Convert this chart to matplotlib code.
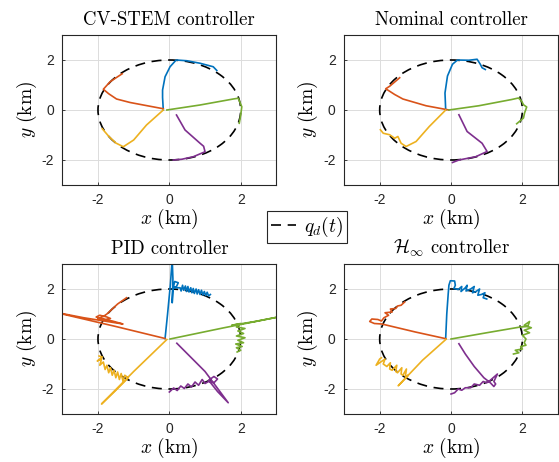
import matplotlib
matplotlib.use("Agg")
import matplotlib.pyplot as plt
from matplotlib.patches import Circle
from matplotlib.lines import Line2D

plt.rcParams['mathtext.fontset'] = 'cm'
plt.rcParams['axes.unicode_minus'] = False

# ---------------- data ----------------
titles = ["CV-STEM controller", "Nominal controller", "PID controller",
          r"$\mathcal{H}_\infty$ controller"]
ticks = [-2, 0, 2]
tick_labels = ["-2", "0", "2"]
ref_radius = 2.0
legend_label = r"$q_d(t)$"

# CV-STEM
cv_blue = [(-0.17, 0.0), (-0.19, 0.5), (-0.19, 0.8), (-0.12, 1.33), (0.02, 1.73), (0.19, 2.0),
           (0.49, 1.97), (0.86, 1.87), (1.23, 1.73), (1.33, 1.58)]
cv_orange = [(-0.17, 0.05), (-0.73, 0.2), (-1.1, 0.3), (-1.48, 0.44), (-1.7, 0.65), (-1.85, 0.83),
             (-1.66, 1.13), (-1.45, 1.33), (-1.32, 1.45)]
cv_yellow = [(-0.17, 0.0), (-0.64, -0.6), (-1.0, -1.2), (-1.29, -1.47), (-1.5, -1.32),
             (-1.7, -1.05), (-1.88, -0.75)]
cv_green = [(-0.07, 0.0), (0.86, 0.2), (1.79, 0.44), (1.93, 0.47), (2.03, 0.13), (2.0, -0.2),
            (1.96, -0.53)]
cv_purple = [(0.2, -0.2), (0.44, -0.8), (0.86, -1.33), (0.96, -1.45), (1.0, -1.67),
             (0.67, -1.87), (0.35, -1.97), (0.11, -2.0)]

# Nominal
nom_blue = [(-0.15, 0.0), (-0.17, 0.68), (-0.1, 1.36), (0.04, 1.83), (0.18, 2.0), (0.5, 1.99),
            (0.73, 2.03), (0.82, 1.83), (0.87, 1.69), (0.96, 1.62)]
nom_orange = [(-0.06, 0.0), (-0.7, 0.17), (-1.35, 0.44), (-1.58, 0.62), (-1.83, 0.85),
              (-1.72, 0.95), (-1.44, 1.29)]
nom_yellow = [(-0.15, 0.0), (-0.61, -0.66), (-0.98, -1.26), (-1.26, -1.46), (-1.4, -1.33),
              (-1.49, -1.06), (-1.58, -1.13), (-1.72, -0.99), (-1.9, -0.93), (-1.98, -0.79)]
nom_green = [(-0.06, 0.0), (0.78, 0.17), (1.7, 0.42), (1.89, 0.48), (1.98, 0.35), (2.03, 0.21),
             (2.12, 0.12), (2.06, -0.12), (2.03, -0.32), (1.84, -0.55)]
nom_purple = [(0.22, -0.19), (0.45, -0.86), (0.87, -1.33), (1.01, -1.66), (0.69, -1.87),
              (0.22, -2.0), (0.04, -2.1)]

# PID
pid_blue = [(-0.12, 0.02), (-0.05, 1.0), (0.03, 2.2), (0.08, 3.2), (0.1, 2.4), (0.08, 1.45),
            (0.1, 2.0), (0.15, 2.3), (0.25, 2.25), (0.2, 2.1), (0.12, 2.05), (0.3, 2.05),
            (0.33, 1.92), (0.37, 2.15), (0.4, 1.95), (0.45, 2.12), (0.48, 1.9), (0.52, 2.1),
            (0.55, 1.88), (0.6, 2.05), (0.63, 1.85), (0.67, 2.02), (0.7, 1.82), (0.75, 2.0),
            (0.78, 1.8), (0.82, 1.97), (0.86, 1.78), (0.9, 1.95), (0.94, 1.76), (0.98, 1.9),
            (1.02, 1.74), (1.06, 1.87), (1.1, 1.72), (1.15, 1.78)]
pid_orange = [(-0.12, 0.02), (-1.5, 0.5), (-3.3, 1.1), (-2.4, 0.85), (-1.3, 0.6), (-1.6, 0.72),
              (-1.9, 0.8), (-2.05, 0.88), (-1.95, 0.95), (-1.75, 0.88), (-1.65, 0.82),
              (-1.8, 0.78), (-2.0, 0.82), (-1.85, 0.9), (-1.75, 1.0), (-1.6, 1.2),
              (-1.45, 1.4), (-1.3, 1.55), (-1.2, 1.65)]
pid_yellow = [(-0.07, -0.02), (-1.0, -1.3), (-1.9, -2.6), (-1.5, -2.05), (-1.15, -1.55),
              (-1.25, -1.45), (-1.3, -1.68), (-1.35, -1.38), (-1.4, -1.62), (-1.45, -1.32),
              (-1.5, -1.55), (-1.55, -1.25), (-1.6, -1.45), (-1.65, -1.15), (-1.7, -1.35),
              (-1.75, -1.05), (-1.8, -1.22), (-1.85, -0.92), (-1.95, -1.05), (-1.9, -0.8),
              (-2.02, -0.88), (-1.88, -0.72), (-1.97, -0.68)]
pid_green = [(0.02, 0.0), (1.5, 0.44), (3.3, 0.95), (2.4, 0.7), (1.75, 0.55), (2.0, 0.62),
             (1.88, 0.48), (2.12, 0.42), (1.92, 0.32), (2.08, 0.22), (1.88, 0.12), (2.12, 0.05),
             (1.92, -0.05), (2.08, -0.15), (1.86, -0.2), (2.04, -0.3), (1.88, -0.35),
             (2.0, -0.45), (1.9, -0.52)]
pid_purple = [(0.21, -0.17), (1.0, -1.3), (1.65, -2.55), (1.35, -2.1), (1.1, -1.65),
              (1.25, -1.5), (1.35, -1.6), (1.25, -1.75), (1.1, -1.7), (1.0, -1.78),
              (0.92, -1.62), (0.82, -1.85), (0.72, -1.72), (0.62, -1.92), (0.52, -1.8),
              (0.42, -1.98), (0.32, -1.88), (0.22, -2.06), (0.12, -1.96), (0.0, -2.12)]

# H-infinity
hinf_blue = [(-0.15, 0.05), (-0.12, 1.0), (-0.08, 1.8), (-0.06, 2.15), (-0.02, 2.33),
             (0.1, 2.32), (0.12, 2.15), (0.08, 2.02), (0.2, 1.98), (0.3, 2.1), (0.28, 1.9),
             (0.4, 2.05), (0.45, 2.15), (0.42, 1.92), (0.55, 2.0), (0.65, 2.1), (0.6, 1.85),
             (0.7, 1.9), (0.8, 2.0), (0.75, 1.75), (0.85, 1.78), (0.95, 1.85), (0.9, 1.65),
             (1.0, 1.6)]
hinf_orange = [(-0.14, 0.01), (-1.0, 0.28), (-1.94, 0.6), (-2.15, 0.62), (-2.28, 0.7),
               (-2.22, 0.8), (-2.05, 0.78), (-1.95, 0.72), (-1.88, 0.85), (-1.75, 0.95),
               (-1.85, 1.05), (-1.65, 1.08), (-1.7, 1.2), (-1.55, 1.22), (-1.5, 1.32),
               (-1.4, 1.35), (-1.3, 1.48)]
hinf_yellow = [(-0.14, -0.01), (-0.8, -0.85), (-1.48, -1.87), (-1.3, -1.6), (-1.2, -1.45),
               (-1.28, -1.5), (-1.25, -1.2), (-1.35, -1.45), (-1.4, -1.4), (-1.38, -1.15),
               (-1.5, -1.35), (-1.55, -1.3), (-1.52, -1.05), (-1.65, -1.25), (-1.72, -1.2),
               (-1.7, -0.95), (-1.8, -1.1), (-1.9, -1.0), (-1.85, -0.8), (-2.0, -0.95),
               (-2.1, -1.05), (-2.0, -0.8), (-1.95, -0.75)]
hinf_green = [(0.0, 0.0), (1.0, 0.25), (1.94, 0.48), (2.15, 0.5), (2.2, 0.7), (2.05, 0.55),
              (2.25, 0.45), (2.05, 0.35), (2.2, 0.25), (2.0, 0.15), (2.1, 0.0), (2.05, -0.15),
              (2.1, -0.25), (1.95, -0.3), (2.0, -0.4), (1.8, -0.45), (1.9, -0.55), (1.75, -0.6)]
hinf_purple = [(0.22, -0.19), (0.4, -0.6), (0.65, -1.1), (0.92, -1.55), (1.1, -1.75),
               (1.2, -1.9), (1.25, -1.8), (1.2, -1.7), (1.3, -1.4), (1.1, -1.65), (1.0, -1.75),
               (0.9, -1.7), (0.8, -1.85), (0.65, -1.8), (0.55, -1.95), (0.4, -1.95),
               (0.3, -2.05), (0.2, -2.0), (0.1, -2.15), (0.0, -2.2)]

panels = [
    [cv_blue, cv_orange, cv_yellow, cv_purple, cv_green],
    [nom_blue, nom_orange, nom_yellow, nom_purple, nom_green],
    [pid_blue, pid_orange, pid_yellow, pid_purple, pid_green],
    [hinf_blue, hinf_orange, hinf_yellow, hinf_purple, hinf_green],
]
colors = ["#0072BD", "#D95319", "#EDB120", "#7E2F8E", "#77AC30"]

# ---------------- figure ----------------
W, H = 559, 462
fig = plt.figure(figsize=(W / 100, H / 100), dpi=100)

boxes = [(62.3, 35, 214.1, 150), (344, 35, 214.1, 150),
         (62.3, 264, 214.1, 150), (344, 264, 214.1, 150)]

tick_font = dict(family="Liberation Sans", size=10)

for i, (l, t, w, h) in enumerate(boxes):
    ax = fig.add_axes([l / W, 1 - (t + h) / H, w / W, h / H])
    circ = Circle((0, 0), ref_radius, fill=False, edgecolor="black", lw=1.2,
                  linestyle=(0, (6, 4)), zorder=2)
    ax.add_patch(circ)
    for traj, c in zip(panels[i], colors):
        xs = [p[0] for p in traj]
        ys = [p[1] for p in traj]
        ax.plot(xs, ys, color=c, lw=1.2, solid_joinstyle='round', zorder=3)
    ax.set_xlim(-3, 3)
    ax.set_ylim(-3, 3)
    ax.set_xticks(ticks)
    ax.set_yticks(ticks)
    ax.set_xticklabels(tick_labels, fontdict=tick_font)
    ax.set_yticklabels(tick_labels, fontdict=tick_font)
    ax.tick_params(direction="in", length=2.5, width=0.6, colors="#262626", pad=6)
    ax.grid(True, color="#dcdcdc", lw=0.7)
    ax.set_axisbelow(True)
    for s in ax.spines.values():
        s.set_color("#262626")
        s.set_linewidth(0.8)
        s.set_zorder(6)
    ax.set_title(titles[i], fontfamily="cmr10", fontsize=13.5, pad=7)
    ax.set_xlabel(r"$x\ \mathrm{(km)}$", fontsize=14, labelpad=0)
    ax.set_ylabel(r"$y\ \mathrm{(km)}$", fontsize=14, labelpad=2)

proxy = Line2D([0], [0], color="black", lw=1.2, linestyle=(0, (6, 4)))
leg = fig.legend([proxy], [legend_label], loc="center",
                 bbox_to_anchor=(307 / W, 1 - 227 / H), fontsize=14,
                 handlelength=1.3, handletextpad=0.4, borderpad=0.2,
                 fancybox=False, framealpha=1, edgecolor="#262626")
leg.get_frame().set_linewidth(0.8)

fig.savefig("out.png", dpi=100)
